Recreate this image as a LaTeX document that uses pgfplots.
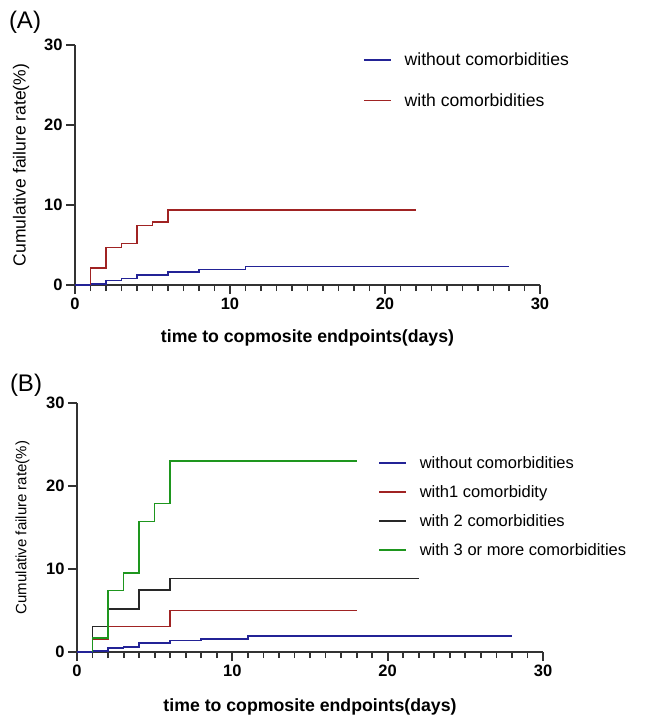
\documentclass[border=0pt]{standalone}
\usepackage{fontspec}
\setmainfont{Liberation Sans}
\usepackage{pgfplots}
\pgfplotsset{compat=1.18}

\definecolor{cblue}{RGB}{35,35,150}
\definecolor{cred}{RGB}{160,35,35}
\definecolor{cgreen}{RGB}{30,150,30}
\definecolor{cblack}{RGB}{40,40,40}
\definecolor{axisgray}{RGB}{50,50,50}

\pgfplotsset{
  km/.style={
    scale only axis,
    axis lines=left,
    axis line style={-, draw=axisgray, line width=1.3pt},
    xmin=0, xmax=30, ymin=0, ymax=30,
    xtick={0,10,20,30}, ytick={0,10,20,30},
    minor xtick={1,2,...,29},
    tick align=outside,
    major tick length=9pt, minor tick length=6pt,
    major tick style={draw=axisgray, line width=1.8pt},
    minor tick style={draw=axisgray, line width=1.8pt},
    ticklabel style={font=\fontsize{16.5}{19}\selectfont\bfseries},
    /pgf/number format/assume math mode=true,
    xlabel={time to copmosite endpoints(days)},
    xlabel style={font=\fontsize{17.7}{21}\selectfont\bfseries,
      at={(axis description cs:0.5,-0.221)}, anchor=center},
    ylabel={Cumulative failure rate(\%)},
    legend cell align=left,
    legend image code/.code={\draw[#1] (0pt,0pt) -- (27pt,0pt);},
    every axis plot/.append style={const plot, line width=1.6pt},
  },
}

\begin{document}
\begin{tikzpicture}
\useasboundingbox (0,0) rectangle (646pt,-718pt);

\node[font=\fontsize{24}{28}\selectfont] at (25pt,-22pt) {(A)};
\node[font=\fontsize{24}{28}\selectfont] at (26pt,-385pt) {(B)};

% panel A
\begin{axis}[km,
  at={(75pt,-285pt)}, anchor=south west,
  width=465pt, height=240pt,
  ylabel style={font=\fontsize{17.5}{20}\selectfont,
    at={(axis description cs:-0.116,0.5)}, anchor=center, rotate=0},
  legend style={at={(axis description cs:0.619,0.967)}, anchor=north west,
    draw=none, fill=none, inner sep=0pt, row sep=26pt,
    font=\fontsize{17.6}{20}\selectfont,
    nodes={inner sep=0pt}, column sep=13pt},
]
\addplot[cblue] coordinates {(0,0) (1,0.1) (2,0.55) (3,0.8) (4,1.25) (6,1.65) (8,1.95) (11,2.3) (28,2.3)};
\addlegendentry{without comorbidities}
\addplot[cred] coordinates {(1,0) (1,2.1) (2,4.7) (3,5.2) (4,7.45) (5,7.9) (6,9.4) (22,9.4)};
\addlegendentry{with comorbidities}
\end{axis}

% panel B
\begin{axis}[km,
  at={(77pt,-652pt)}, anchor=south west,
  width=466pt, height=249pt,
  ylabel style={font=\fontsize{15}{18}\selectfont,
    at={(axis description cs:-0.117,0.5)}, anchor=center, rotate=0},
  legend style={at={(axis description cs:0.646,0.787)}, anchor=north west,
    draw=none, fill=none, inner sep=0pt, row sep=15.5pt,
    font=\fontsize{16.5}{19}\selectfont,
    nodes={inner sep=0pt}, column sep=13pt},
]
\addplot[cblue] coordinates {(0,0) (1,0.15) (2,0.45) (3,0.6) (4,1.1) (6,1.4) (8,1.6) (11,1.9) (28,1.9)};
\addlegendentry{without comorbidities}
\addplot[cred] coordinates {(1,0) (1,1.5) (2,3.05) (6,5.0) (18,5.0)};
\addlegendentry{with1 comorbidity}
\addplot[cblack] coordinates {(1,0) (1,3.05) (2,5.2) (4,7.5) (6,8.85) (22,8.85)};
\addlegendentry{with 2 comorbidities}
\addplot[cgreen] coordinates {(1,0) (1,1.7) (2,7.4) (3,9.5) (4,15.7) (5,17.9) (6,23.0) (18,23.0)};
\addlegendentry{with 3 or more comorbidities}
\end{axis}
\end{tikzpicture}
\end{document}
